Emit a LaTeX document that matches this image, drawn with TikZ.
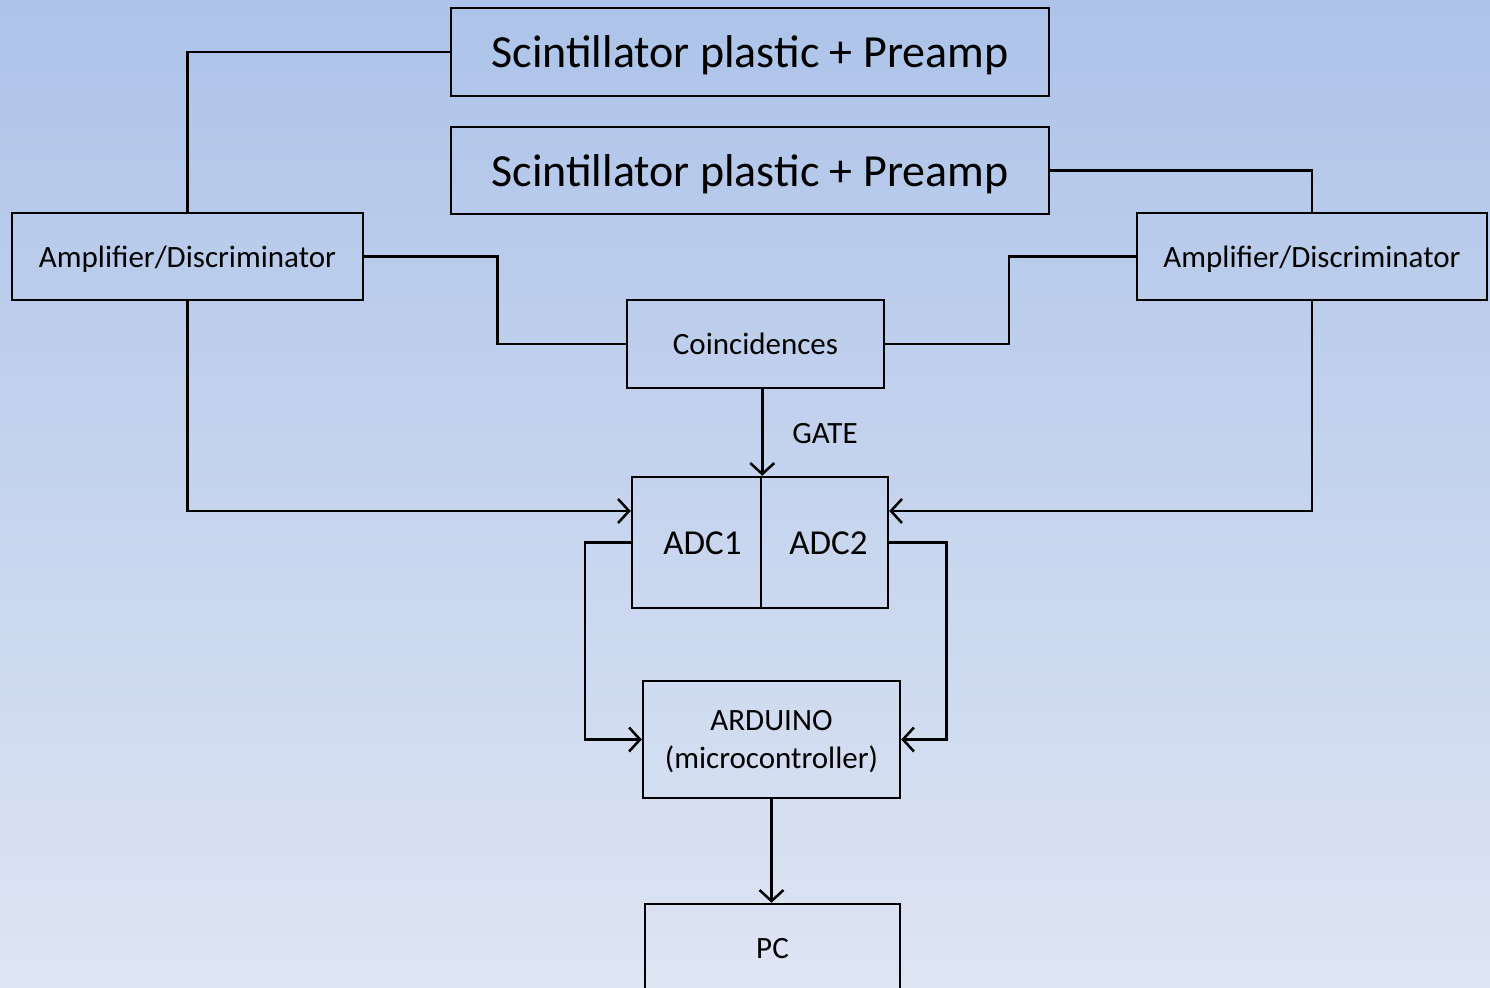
\documentclass[tikz,border=0pt]{standalone}
\usepackage{fontspec}
\setmainfont{Carlito}
\usetikzlibrary{arrows.meta,calc}
\begin{document}
\begin{tikzpicture}[x=0.5pt,y=-0.5pt,
  box/.style={draw=black,line width=1.25pt,inner sep=0pt,anchor=center,text depth=0pt},
  conn/.style={draw=black,line width=1.25pt},
  arr/.style={conn,-{Straight Barb[length=5.5pt,width=12pt,line width=1.25pt]}},
  small/.style={font=\fontsize{15.5}{19}\selectfont},
  big/.style={font=\fontsize{23}{27}\selectfont}]
\clip (0,0) rectangle (1490,988);
\shade[top color={rgb,255:red,173;green,195;blue,233},bottom color={rgb,255:red,222;green,229;blue,243}] (0,0) rectangle (1490,988);
\node[box,big,minimum width=299pt,minimum height=44pt] (S1) at (750,52) {Scintillator plastic + Preamp};
\node[box,big,minimum width=299pt,minimum height=43.5pt] (S2) at (750,170.5) {Scintillator plastic + Preamp};
\node[box,small,minimum width=175.5pt,minimum height=43.5pt] (AD1) at (187.5,256.5) {Amplifier/Discriminator};
\node[box,small,minimum width=175pt,minimum height=43.5pt] (AD2) at (1312,256.5) {Amplifier/Discriminator};
\node[box,small,minimum width=128.5pt,minimum height=44pt] (CO) at (755.5,344) {Coincidences};
\node[box,font=\fontsize{17.5}{21}\selectfont,minimum width=64.5pt,minimum height=65.5pt] (ADC1) at (696.5,542.5) {\raisebox{-1pt}{\hspace*{6pt}ADC1}};
\node[box,font=\fontsize{17.5}{21}\selectfont,minimum width=63.5pt,minimum height=65.5pt] (ADC2) at (824.5,542.5) {\raisebox{-1pt}{\hspace*{4pt}ADC2}};
\node[box,small,minimum width=128.5pt,minimum height=58.5pt,align=center] (AR) at (771.5,739.5) {ARDUINO\\(microcontroller)};
\node[box,small,minimum width=127.5pt,minimum height=44pt] (PC) at (772.5,948) {PC};
\node[small,text depth=0pt] (GATE) at (825,433) {GATE};
% connectors
\draw[conn] (S1.west) -| (AD1.north);
\draw[conn] (S2.east) -| (AD2.north);
\draw[conn] (AD1.east) -- ++(133,0) |- (CO.west);
\draw[conn] (AD2.west) -- ++(-127,0) |- (CO.east);
\draw[arr] (CO.south -| ADC1.north east) -- (ADC1.north east);
\draw[arr] (AD1.south) |- ($(ADC1.west)+(0,-31.5)$);
\draw[arr] (AD2.south) |- ($(ADC2.east)+(0,-31.5)$);
\draw[arr] (ADC1.west) -- ++(-46,0) |- (AR.west);
\draw[arr] (ADC2.east) -- ++(57,0) |- (AR.east);
\draw[arr] (AR.south) -- (AR.south |- PC.north);
\end{tikzpicture}
\end{document}
